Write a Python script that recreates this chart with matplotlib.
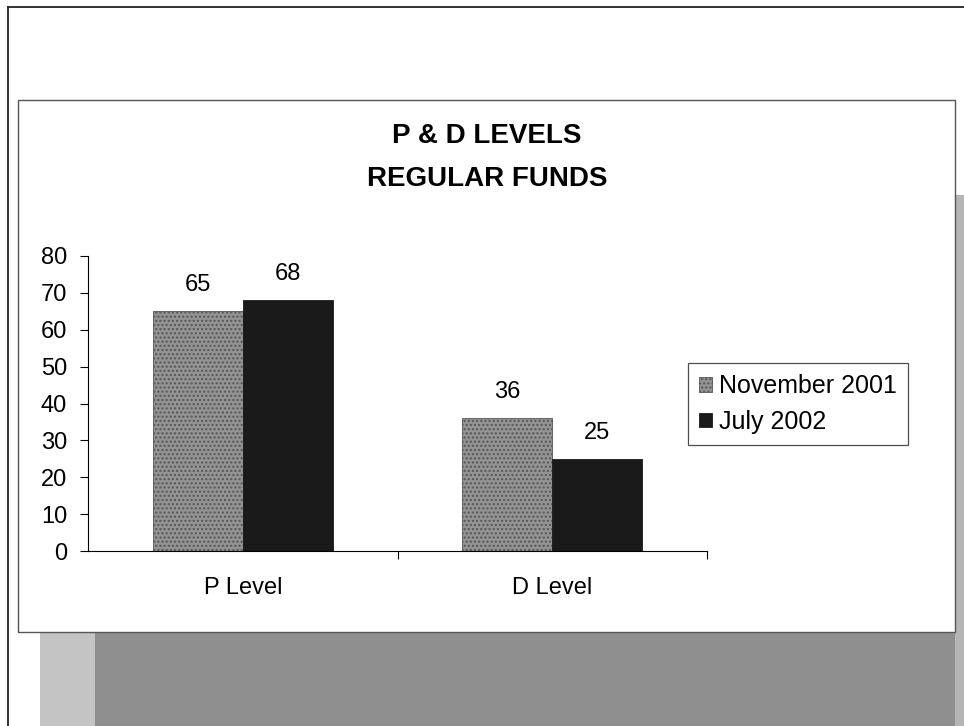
import numpy as np
import matplotlib.pyplot as plt
from matplotlib.patches import Rectangle
from matplotlib.lines import Line2D

# data
categories = ["P Level", "D Level"]
series_names = ["November 2001", "July 2002"]
nov_2001 = [65, 36]
jul_2002 = [68, 25]
y_ticks = [0, 10, 20, 30, 40, 50, 60, 70, 80]

plt.rcParams["font.family"] = ["Liberation Sans", "DejaVu Sans"]

W, H = 964, 726
fig = plt.figure(figsize=(W / 100, H / 100), dpi=100)
fig.patch.set_facecolor("white")


def px_rect(x0, y0, x1, y1, **kw):
    # rectangle in pixel coords (origin top-left)
    return Rectangle((x0 / W, 1 - y1 / H), (x1 - x0) / W, (y1 - y0) / H,
                     transform=fig.transFigure, **kw)


# slide background pieces
fig.patches.append(px_rect(40, 632, 964, 726, facecolor="#8f8f8f", edgecolor="none", zorder=0))
fig.patches.append(px_rect(40, 632, 95, 726, facecolor="#c4c4c4", edgecolor="none", zorder=0))
fig.patches.append(px_rect(955, 195, 964, 726, facecolor="#b5b5b5", edgecolor="none", zorder=0))
fig.lines.append(Line2D([8 / W, 8 / W], [0, 1 - 7 / H], transform=fig.transFigure, color="#222222", lw=1.3))
fig.lines.append(Line2D([8 / W, 1], [1 - 7 / H, 1 - 7 / H], transform=fig.transFigure, color="#222222", lw=1.3))
# chart panel
fig.patches.append(px_rect(18, 100, 955, 632, facecolor="white", edgecolor="#555555", lw=1.0, zorder=1))

ax = fig.add_axes([88 / W, 1 - 551 / H, (707 - 88) / W, (551 - 256) / H])
ax.set_facecolor("none")
ax.set_zorder(2)

x = np.arange(len(categories))
bw = 0.29
b1 = ax.bar(x - bw / 2, nov_2001, bw, color="#939393", edgecolor="#555555", lw=0.6,
            hatch="....", label=series_names[0])
b2 = ax.bar(x + bw / 2, jul_2002, bw, color="#1a1a1a", edgecolor="#1a1a1a", lw=0.6,
            label=series_names[1])
for bars in (b1, b2):
    for r in bars:
        ax.annotate(f"{r.get_height():.0f}", (r.get_x() + r.get_width() / 2, r.get_height()),
                    xytext=(0, 11), textcoords="offset points", ha="center", va="bottom",
                    fontsize=17)

ax.set_xlim(-0.5, 1.5)
ax.set_ylim(0, 80)
ax.set_yticks(y_ticks)
ax.tick_params(axis="y", direction="out", length=6, width=0.8, labelsize=17, pad=9)
ax.set_xticks([0.5, 1.5])
ax.set_xticklabels([])
ax.tick_params(axis="x", direction="out", length=6, width=0.8)
ax.set_xticks(x, minor=True)
ax.set_xticklabels(categories, minor=True, fontsize=17)
ax.tick_params(axis="x", which="minor", length=0, pad=19)
for s in ("top", "right"):
    ax.spines[s].set_visible(False)
ax.spines["left"].set_linewidth(0.8)
ax.spines["bottom"].set_linewidth(0.8)

fig.text(487 / W, 1 - 136 / H, "P & D LEVELS", ha="center", va="center",
         fontsize=20, fontweight="bold")
fig.text(487 / W, 1 - 179 / H, "REGULAR FUNDS", ha="center", va="center",
         fontsize=20, fontweight="bold")

leg = ax.legend(loc="center left", bbox_to_anchor=(688 / W, 1 - 404 / H),
                bbox_transform=fig.transFigure, frameon=True, fancybox=False,
                fontsize=18, handlelength=0.5, handleheight=0.5, handletextpad=0.3,
                borderpad=0.45, labelspacing=0.45, borderaxespad=0)
leg.get_frame().set_edgecolor("#222222")
leg.get_frame().set_linewidth(0.9)

fig.savefig("out.png", dpi=100)
